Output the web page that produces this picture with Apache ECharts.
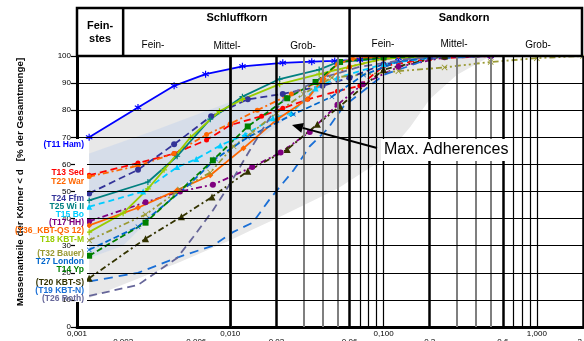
<!DOCTYPE html>
<html><head><meta charset="utf-8">
<script src="https://cdn.jsdelivr.net/npm/echarts@6/dist/echarts.min.js"></script>
<style>html,body{margin:0;padding:0;background:#fff}#c{width:584px;height:341px}</style>
</head><body><div id="c"></div>
<script>
// ---- axis / tick data ----
const xTickValues = [0.001,0.002,0.006,0.01,0.02,0.06,0.1,0.2,0.6,1,2];
const xTickLabels = ['0,001','0,002','0,006','0,010','0,02','0,06','0,100','0,2','0,6','1,000','2,0'];
const xTickLow    = [false,true,true,false,true,true,false,true,true,false,true];
const gridMajor = [0.002,0.006,0.02,0.06,0.2,0.6,2];
const gridGray  = [0.003,0.004,0.005,0.03,0.04,0.05,0.3,0.4,0.5];
const gridThin  = [0.007,0.008,0.009,0.01,0.07,0.08,0.09,0.1,0.7,0.8,0.9,1];
const yGrid = [10,20,30,40,50,60,70,80,90];

// ---- curve data [d (mm), passing %] ----
const t11 = [[0.0012,70],[0.0025,81],[0.0043,89],[0.0069,93.3],[0.012,96.2],[0.022,97.5],[0.034,97.9],[0.048,98.2],[0.07,98.6],[0.125,99.3],[0.25,99.8],[0.5,100]];
const t13 = [[0.0012,56],[0.0025,60.5],[0.0043,64],[0.007,69],[0.01,74.5],[0.016,77.8],[0.022,80.7],[0.032,84],[0.05,87],[0.07,89],[0.1,96.3],[0.2,99],[0.5,100]];
const t22 = [[0.0012,55.5],[0.0025,59.5],[0.0043,64],[0.007,71],[0.01,75],[0.015,80],[0.025,86],[0.04,91],[0.06,96],[0.1,99],[0.2,100]];
const t24 = [[0.0012,49.3],[0.0025,58],[0.0043,67.4],[0.0075,77.8],[0.013,84],[0.022,86],[0.04,89],[0.06,92],[0.1,97],[0.2,99.5],[0.5,100]];
const t25 = [[0.0012,46.7],[0.0029,53.5],[0.0045,63],[0.0074,76.7],[0.012,85],[0.021,91.5],[0.038,95],[0.05,97.7],[0.1,99.3],[0.25,100]];
const t15 = [[0.0012,44.4],[0.0027,50],[0.0045,59],[0.006,62],[0.0086,67],[0.0125,71],[0.019,77],[0.025,79],[0.036,88],[0.05,92],[0.1,97],[0.25,100]];
const t17 = [[0.0012,39],[0.0028,46],[0.0047,50],[0.0077,52.5],[0.0139,59],[0.0213,64.4],[0.033,72],[0.05,82],[0.073,89.6],[0.125,96],[0.25,99.5],[0.5,100]];
const t36 = [[0.0012,37.5],[0.0025,44],[0.0045,50.5],[0.0074,56],[0.0122,66],[0.0203,76.7],[0.0318,84],[0.04,91.5],[0.05,97],[0.063,99],[0.125,100]];
const t18 = [[0.0012,35],[0.002,42],[0.0029,51],[0.0037,58],[0.0055,70],[0.0085,79.6],[0.012,84],[0.021,89.6],[0.038,93.3],[0.05,95],[0.1,99],[0.25,100]];
const t32 = [[0.0012,32],[0.0028,41.5],[0.0047,50.7],[0.0074,57],[0.0105,66.7],[0.014,72],[0.02,79],[0.03,86],[0.046,92],[0.125,94.4],[0.25,95.8],[0.5,97.8],[1,99.2],[2,100]];
const t27 = [[0.0012,28.5],[0.0025,37],[0.0054,52.6],[0.008,62],[0.013,70],[0.0258,78.5],[0.046,85],[0.074,93],[0.125,98],[0.25,100]];
const t14 = [[0.0012,26.3],[0.0028,38.5],[0.0077,61.5],[0.013,74],[0.0235,84.4],[0.036,90.4],[0.052,97.8],[0.1,99.5],[0.25,100]];
const t20 = [[0.0012,18],[0.0028,32.6],[0.0048,40.7],[0.0076,48],[0.013,57.5],[0.0235,65.5],[0.037,74.8],[0.052,81.5],[0.1,95],[0.25,100]];
const t19 = [[0.0012,16.8],[0.0025,20],[0.0047,26],[0.0077,30],[0.0104,35],[0.014,38.5],[0.018,47],[0.026,58],[0.033,66.7],[0.043,73],[0.055,81.5],[0.1,93],[0.2,99],[0.5,100]];
const t26 = [[0.0012,11.5],[0.0025,15.5],[0.0045,25.5],[0.0057,33],[0.0077,43],[0.01,53],[0.0135,65.5],[0.018,77],[0.023,85],[0.04,92],[0.07,96],[0.15,99],[0.3,100]];

// envelope bands
const grayUpper = [[0.0012,70],[0.0025,81],[0.0043,89],[0.0069,93.3],[0.012,96.2],[0.022,97.5],[0.048,98.2],[0.1,99.5],[0.5,100]];
const grayLower = [[0.0012,10.7],[0.0047,24],[0.01,32],[0.014,36],[0.02,40],[0.05,51],[0.1,62],[0.15,74],[0.2,84],[0.3,93],[0.5,100]];
const blueUpper = [[0.0012,64],[0.003,72],[0.01,83],[0.02,89],[0.04,95],[0.06,100]];
const blueLower = [[0.0012,25.5],[0.002,30],[0.003,40],[0.0047,52],[0.01,62],[0.02,74],[0.04,88],[0.06,100]];

const names  = ['(T11 Ham)','T13 Sed','T22 War','T24 Ffm','T25 Wi II','T15 Bo','(T17 HH)','(T36_KBT-QS 12)','T18 KBT-M','(T32 Bauer)','T27 London','T14 Yp','(T20 KBT-S)','(T19 KBT-N)','(T26 Roth)'];
const datas  = [t11,t13,t22,t24,t25,t15,t17,t36,t18,t32,t27,t14,t20,t19,t26];
const colors = ['#0000ff','#ff0000','#ff6600','#333399','#008080','#00ccff','#800080','#ff6600','#99cc00','#999933','#0066cc','#008000','#333300','#1a6fd6','#666699'];
const labelY = [145,173,182,199,207,215,223,231,240,254,262,270,283,291,299];

const CROSS = 'path://M1,0L5,4L9,0L10,1L6,5L10,9L9,10L5,6L1,10L0,9L4,5L0,1Z';
const PLUS = 'path://M4,0H6V4H10V6H6V10H4V6H0V4H4Z';
const STAR = 'path://M4.2,0H5.8V3.6L8.9,1.7L9.7,3.1L6.6,5L9.7,6.9L8.9,8.3L5.8,6.4V10H4.2V6.4L1.1,8.3L0.3,6.9L3.4,5L0.3,3.1L1.1,1.7L4.2,3.6Z';
const styles = [
  {type:'solid', sym:STAR, size:7},
  {type:[7,4], sym:'circle', size:5},
  {type:[6,3,2,3], sym:'circle', size:5},
  {type:[7,4], sym:'circle', size:6},
  {type:'solid', sym:PLUS, size:6},
  {type:[6,4], sym:'triangle', size:6},
  {type:[6,3,2,3], sym:'circle', size:6},
  {type:'solid', sym:'diamond', size:6},
  {type:'solid', sym:PLUS, size:6},
  {type:[6,3,2,3,2,3], sym:CROSS, size:6},
  {type:[6,3], sym:CROSS, size:5},
  {type:[6,3], sym:'rect', size:6},
  {type:[6,3,2,3], sym:'triangle', size:7},
  {type:[9,6], sym:'none', size:0},
  {type:[8,5], sym:'none', size:0}
];

const FONT = 'Liberation Sans, Arial, sans-serif';
const chart = echarts.init(document.getElementById('c'), null, {renderer:'canvas'});

function band(upper, lower, fill, z){
  return {type:'custom', z:z, silent:true, clip:true, data:[[0.01,50]],
    renderItem:(p, api)=>{
      const pts = upper.map(q=>api.coord(q)).concat(lower.slice().reverse().map(q=>api.coord(q)));
      return {type:'polygon', shape:{points:pts}, style:{fill:fill}};
    }};
}

const gridLines = [];
gridThin.forEach(v=>gridLines.push({xAxis:v, lineStyle:{color:'#000', width:1.2, type:'solid'}}));
gridGray.forEach(v=>gridLines.push({xAxis:v, lineStyle:{color:'#7f7f7f', width:2, type:'solid'}}));
gridMajor.forEach(v=>gridLines.push({xAxis:v, lineStyle:{color:'#000', width:2.5, type:'solid'}}));
yGrid.forEach(v=>gridLines.push({yAxis:v, lineStyle:{color:'#000', width:1.2, type:'solid'}}));

const series = [
  band(grayUpper, grayLower, '#e8e8e8', 1),
  band(blueUpper, blueLower, 'rgba(208,218,233,0.75)', 1),
  {type:'line', z:1.5, silent:true, data:[[0.01,-50]], symbol:'none', lineStyle:{opacity:0},
   markLine:{silent:true, symbol:['none','none'], label:{show:false}, data:gridLines, animation:false}}
];
datas.forEach((d,i)=>{
  series.push({type:'line', name:names[i], z:3, data:d, color:colors[i],
    symbol:styles[i].sym, symbolSize:styles[i].size, showAllSymbol:true,
    lineStyle:{width:1.8, type:styles[i].type, color:colors[i]},
    itemStyle:{color:colors[i]}, animation:false});
});

const option = {
  animation:false,
  grid:{left:77, right:1, top:56, bottom:14, containLabel:false, outerBoundsMode:'none'},
  xAxis:{type:'log', logBase:10, min:0.001, max:2,
    axisLine:{show:true, lineStyle:{color:'#000', width:3}},
    axisTick:{show:false},
    splitLine:{show:false},
    axisLabel:{customValues:xTickValues, fontFamily:FONT, fontSize:8, color:'#000', margin:3, hideOverlap:false,
      formatter:(v)=>{const i = xTickValues.findIndex(t=>Math.abs(t-v)/t<1e-6); if(i<0) return ''; return (xTickLow[i]?'\n':'')+xTickLabels[i];}}},
  yAxis:{type:'value', min:0, max:100, interval:10,
    axisLine:{show:true, lineStyle:{color:'#000', width:3}},
    axisTick:{show:true, length:6, inside:false, lineStyle:{color:'#000', width:1.2}},
    splitLine:{show:false},
    axisLabel:{fontFamily:FONT, fontSize:8, color:'#000', margin:6}},
  series:series
};
chart.setOption(option);

const px = v=>chart.convertToPixel({xAxisIndex:0}, v);
const xL = px(0.001), x2 = px(0.002), x60 = px(0.06), xR = px(2);
const yTop = 8, yHead = chart.convertToPixel({yAxisIndex:0}, 100);
const g = [];
g.push({type:'rect', shape:{x:xL, y:yTop, width:xR-xL-1, height:yHead-yTop}, style:{fill:'#fff', stroke:'#000', lineWidth:2.5}, z:10});
g.push({type:'line', shape:{x1:x2,y1:yTop,x2:x2,y2:yHead}, style:{stroke:'#000', lineWidth:2.5}, z:11});
g.push({type:'line', shape:{x1:x60,y1:yTop,x2:x60,y2:yHead}, style:{stroke:'#000', lineWidth:2.5}, z:11});
const hb = {fontFamily:FONT, fontWeight:'bold', fontSize:11, fill:'#000', align:'center', verticalAlign:'middle'};
const hn = {fontFamily:FONT, fontSize:10, fill:'#000', align:'center', verticalAlign:'middle'};
g.push({type:'text', x:(xL+x2)/2, y:32, style:Object.assign({text:'Fein-\nstes', lineHeight:13}, hb), z:12});
g.push({type:'text', x:237, y:18, style:Object.assign({text:'Schluffkorn'}, hb), z:12});
g.push({type:'text', x:464, y:18, style:Object.assign({text:'Sandkorn'}, hb), z:12});
[['Fein-',153,45],['Mittel-',227,46],['Grob-',303,46],['Fein-',383,44],['Mittel-',454,44],['Grob-',538,45]].forEach(t=>{
  g.push({type:'text', x:t[1], y:t[2], style:Object.assign({text:t[0]}, hn), z:12});
});
// y axis title
g.push({type:'text', x:20, y:182, rotation:Math.PI/2, style:{text:'Massenanteile der Körner < d   [% der Gesamtmenge]', fontFamily:FONT, fontWeight:'bold', fontSize:9.8, fill:'#000', align:'center', verticalAlign:'middle'}, z:12});
// white label panel covering the axis line strip
g.push({type:'rect', shape:{x:75, y:139, width:12, height:163}, style:{fill:'#fff'}, z:12});
// curve labels
names.forEach((n,i)=>{
  g.push({type:'text', x:84, y:labelY[i], style:{text:n, fontFamily:FONT, fontWeight:'bold', fontSize:8.5, fill:colors[i], align:'right', verticalAlign:'middle'}, z:13});
});
// arrow annotation
const ax1 = 377, ay1 = 148, ax2 = 292, ay2 = 125;
const ang = Math.atan2(ay2-ay1, ax2-ax1);
const hl = 11, hw = 5;
const bx = ax2 - hl*Math.cos(ang), by = ay2 - hl*Math.sin(ang);
g.push({type:'line', shape:{x1:ax1,y1:ay1,x2:bx,y2:by}, style:{stroke:'#000', lineWidth:2}, z:14});
g.push({type:'polygon', shape:{points:[[ax2,ay2],[bx+hw*Math.sin(ang), by-hw*Math.cos(ang)],[bx-hw*Math.sin(ang), by+hw*Math.cos(ang)]]}, style:{fill:'#000'}, z:14});
g.push({type:'text', x:381, y:150, style:{text:'Max. Adherences', fontFamily:FONT, fontSize:16, fill:'#000', align:'left', verticalAlign:'middle', backgroundColor:'#fff', padding:[3,2,3,3]}, z:14});
chart.setOption({graphic:g});
</script></body></html>
